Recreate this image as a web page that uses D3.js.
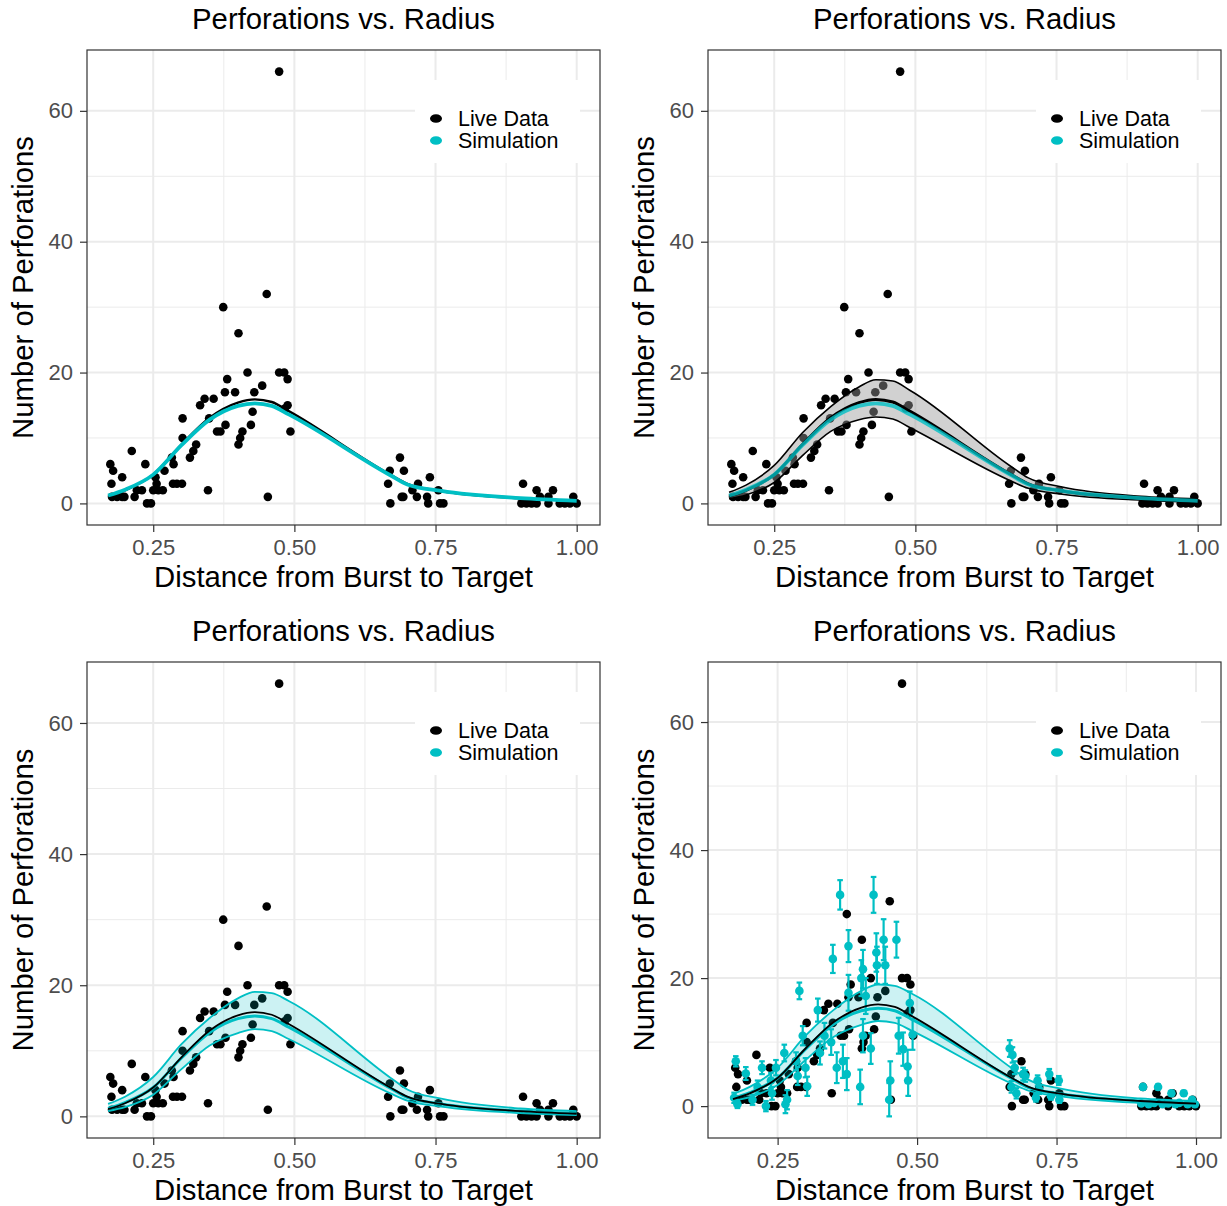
<!DOCTYPE html>
<html>
<head>
<meta charset="utf-8">
<script src="https://cdn.jsdelivr.net/npm/d3@7"></script>
<style>
  body { margin: 0; background: #fff; }
  text { font-family: "Liberation Sans", Arial, Helvetica, sans-serif; }
</style>
</head>
<body>
<div id="chart"></div>
<script>
// live data (distance, perforations)
var liveX = [0.174, 0.179, 0.176, 0.177, 0.186, 0.195, 0.199, 0.195, 0.212, 0.217,
  0.221, 0.230, 0.236, 0.239, 0.246, 0.254, 0.256, 0.250, 0.259, 0.267,
  0.270, 0.283, 0.286, 0.285, 0.292, 0.301, 0.302, 0.302, 0.315, 0.321,
  0.326, 0.333, 0.341, 0.347, 0.349, 0.357, 0.363, 0.369, 0.374, 0.377,
  0.378, 0.381, 0.395, 0.401, 0.401, 0.404, 0.408, 0.417, 0.423, 0.426,
  0.429, 0.443, 0.451, 0.453, 0.473, 0.473, 0.482, 0.488, 0.488, 0.483,
  0.493,
  0.669, 0.666, 0.687, 0.694, 0.670, 0.690, 0.693, 0.709, 0.719, 0.717,
  0.740, 0.735, 0.737, 0.755, 0.758, 0.764,
  0.905, 0.902, 0.911, 0.920, 0.929, 0.929, 0.935, 0.950, 0.950, 0.958,
  0.970, 0.979, 0.988, 0.994, 1.000];
var liveY = [6, 5, 3, 1, 1, 1, 1, 4, 8, 1,
  2, 2, 6, 0, 0, 4, 3, 2, 2, 2,
  5, 7, 6, 3, 3, 3, 10, 13, 7, 8,
  9, 15, 16, 2, 13, 16, 11, 11, 30, 17,
  12, 19, 17, 26, 9, 10, 11, 20, 12, 14,
  17, 18, 32, 1, 66, 20, 20, 19, 15, 14.5,
  11,
  5, 3, 7, 5, 0, 1, 1, 2, 3, 1,
  4, 1, 0, 2, 0, 0,
  3, 0, 0, 0, 0, 2, 1, 1, 0, 2,
  0, 0, 0, 1, 0];

// simulation means with error bar half-widths
var simX = [0.175, 0.193, 0.222, 0.172, 0.178, 0.205, 0.214, 0.229, 0.240, 0.238,
  0.247, 0.262, 0.267, 0.264, 0.283, 0.286, 0.289, 0.295, 0.300, 0.303,
  0.322, 0.326, 0.334, 0.346, 0.349, 0.356, 0.362, 0.367, 0.374, 0.377,
  0.377, 0.398, 0.400, 0.403, 0.403, 0.408, 0.417, 0.422, 0.427, 0.428,
  0.440, 0.443, 0.450, 0.452, 0.463, 0.467, 0.475, 0.483, 0.484, 0.487,
  0.492,
  0.666, 0.671, 0.675, 0.669, 0.678, 0.690, 0.694, 0.713, 0.716, 0.719,
  0.737, 0.740, 0.754, 0.755,
  0.905, 0.902, 0.915, 0.925, 0.932, 0.940, 0.950, 0.956, 0.963, 0.970,
  0.978, 0.985, 0.993, 0.998];
var simY = [7, 5.1, 6, 1.3, 0.3, 1, 3, 0, 2, 4,
  6, 8.3, 1, 0.3, 7, 4.7, 18, 11, 6, 3.1,
  15, 8.3, 11, 10, 23, 6, 33, 7, 5, 25,
  17.7, 3, 20, 21.4, 11, 17.2, 9, 33, 24, 22,
  26, 22, 1, 4, 26, 11, 8.9, 6.2, 4, 16.1,
  11.2,
  9, 8, 6, 3, 2, 5, 4.7, 1.3, 4, 2.6,
  5, 1.6, 4, 1,
  3, 0.4, 0.3, 0.5, 3, 0.3, 0.4, 2, 0.3, 0.5,
  2, 0.3, 1, 0.3];
var simErr = [0.8, 1.0, 1.0, 0.8, 0.6, 0.8, 1.0, 0.8, 1.0, 1.2,
  1.2, 1.3, 1.5, 1.4, 1.4, 1.4, 1.3, 1.5, 1.5, 1.5,
  1.8, 1.8, 2.0, 2.0, 2.2, 2.4, 2.3, 2.6, 2.5, 2.5,
  2.8, 2.7, 2.8, 3.0, 2.6, 2.8, 2.4, 2.8, 3.0, 2.9,
  3.2, 2.9, 2.6, 3.0, 2.8, 2.8, 2.6, 2.6, 2.4, 1.8,
  2.4,
  1.3, 1.2, 1.0, 0.9, 0.8, 1.0, 0.9, 0.6, 0.8, 0.7,
  0.8, 0.6, 0.7, 0.5,
  0.4, 0.3, 0.3, 0.3, 0.4, 0.3, 0.3, 0.4, 0.3, 0.3,
  0.4, 0.3, 0.3, 0.3];

// fitted curves
var fitX    = [0.17, 0.20, 0.25, 0.30, 0.35, 0.40, 0.43, 0.46, 0.49, 0.67, 0.70, 0.76, 0.90, 1.00];
var liveFit = [1.1, 2.0, 4.4, 9.0, 13.1, 15.4, 15.9, 15.5, 14.1, 4.4, 3.0, 1.9, 0.8, 0.4];
var liveLo  = [0.7, 1.3, 3.2, 7.3, 11.0, 12.8, 13.2, 12.9, 11.6, 3.4, 2.3, 1.4, 0.5, 0.2];
var liveHi  = [1.7, 2.8, 5.8, 10.8, 14.8, 17.8, 18.9, 18.7, 17.3, 5.6, 3.9, 2.5, 1.1, 0.7];
var simFit  = [1.2, 2.1, 4.4, 8.9, 12.8, 14.9, 15.3, 14.9, 13.6, 4.3, 2.9, 1.9, 0.8, 0.4];
var simLo   = [0.8, 1.4, 3.3, 7.2, 10.8, 12.7, 13.3, 13.0, 11.8, 3.5, 2.4, 1.5, 0.5, 0.2];
var simHi   = [1.9, 3.0, 6.0, 11.0, 15.0, 18.0, 19.0, 18.8, 17.6, 5.9, 4.1, 2.7, 1.2, 0.8];

var xTicks = [0.25, 0.50, 0.75, 1.00];
var yTicks = [0, 20, 40, 60];
var xMinor = [0.125, 0.375, 0.625, 0.875];
var yMinor = [-10, 10, 30, 50, 70];

var teal = "#00BFC4";
var fontFam = "'Liberation Sans', Arial, Helvetica, sans-serif";

var svg = d3.select("#chart").append("svg")
  .attr("width", 1227)
  .attr("height", 1206);

// panel frames: mode 1 lines, 2 live band, 3 sim band, 4 sim band + sim points
var panels = [
  {x0: 87, y0: 50, x1: 600, y1: 525, mode: 1},
  {x0: 708, y0: 50, x1: 1221, y1: 525, mode: 2},
  {x0: 87, y0: 662, x1: 600, y1: 1138, mode: 3},
  {x0: 708, y0: 662, x1: 1221, y1: 1138, mode: 4}
];

panels.forEach(function(p, idx) {
  var g = svg.append("g");

  // ggplot-like 5% expansion of the data range
  var xs = liveX.slice(), ys = liveY.slice();
  if (p.mode === 4) {
    xs = xs.concat(simX.map(v => v - 0.005), simX.map(v => v + 0.005));
    ys = ys.concat(simY.map((v, i) => v - simErr[i]), simY.map((v, i) => v + simErr[i]));
  }
  var xe = d3.extent(xs), ye = d3.extent(ys);
  var xp = (xe[1] - xe[0]) * 0.05, yp = (ye[1] - ye[0]) * 0.05;

  var x = d3.scaleLinear().domain([xe[0] - xp, xe[1] + xp]).range([p.x0, p.x1]);
  var y = d3.scaleLinear().domain([ye[0] - yp, ye[1] + yp]).range([p.y1, p.y0]);
  var xd = x.domain(), yd = y.domain();

  // clip
  svg.append("clipPath").attr("id", "clip" + idx)
    .append("rect")
    .attr("x", p.x0).attr("y", p.y0)
    .attr("width", p.x1 - p.x0).attr("height", p.y1 - p.y0);

  // grid
  var grid = g.append("g");
  grid.selectAll(".xmin").data(xMinor.filter(v => v > xd[0] && v < xd[1])).enter()
    .append("line")
    .attr("x1", d => x(d)).attr("x2", d => x(d))
    .attr("y1", p.y0).attr("y2", p.y1)
    .attr("stroke", "#ebebeb").attr("stroke-width", 1);
  grid.selectAll(".ymin").data(yMinor.filter(v => v > yd[0] && v < yd[1])).enter()
    .append("line")
    .attr("y1", d => y(d)).attr("y2", d => y(d))
    .attr("x1", p.x0).attr("x2", p.x1)
    .attr("stroke", "#ebebeb").attr("stroke-width", 1);
  grid.selectAll(".xmaj").data(xTicks).enter()
    .append("line")
    .attr("x1", d => x(d)).attr("x2", d => x(d))
    .attr("y1", p.y0).attr("y2", p.y1)
    .attr("stroke", "#ebebeb").attr("stroke-width", 2);
  grid.selectAll(".ymaj").data(yTicks).enter()
    .append("line")
    .attr("y1", d => y(d)).attr("y2", d => y(d))
    .attr("x1", p.x0).attr("x2", p.x1)
    .attr("stroke", "#ebebeb").attr("stroke-width", 2);

  var plot = g.append("g").attr("clip-path", "url(#clip" + idx + ")");

  // live points
  plot.selectAll(".live").data(liveX).enter()
    .append("circle")
    .attr("cx", d => x(d))
    .attr("cy", (d, i) => y(liveY[i]))
    .attr("r", 4.3)
    .attr("fill", "#000");

  // simulation points with error bars
  if (p.mode === 4) {
    var eb = plot.append("g").attr("stroke", teal).attr("stroke-width", 2.2);
    simX.forEach(function(sx, i) {
      var lo = simY[i] - simErr[i], hi = simY[i] + simErr[i];
      eb.append("line").attr("x1", x(sx)).attr("x2", x(sx)).attr("y1", y(lo)).attr("y2", y(hi));
      eb.append("line").attr("x1", x(sx - 0.005)).attr("x2", x(sx + 0.005)).attr("y1", y(lo)).attr("y2", y(lo));
      eb.append("line").attr("x1", x(sx - 0.005)).attr("x2", x(sx + 0.005)).attr("y1", y(hi)).attr("y2", y(hi));
    });
    plot.selectAll(".sim").data(simX).enter()
      .append("circle")
      .attr("cx", d => x(d))
      .attr("cy", (d, i) => y(simY[i]))
      .attr("r", 4.3)
      .attr("fill", teal);
  }

  var line = function(vals) {
    return d3.line().x(d => x(d)).y((d, i) => y(vals[i])).curve(d3.curveMonotoneX)(fitX);
  };
  var band = function(lo, hi) {
    return d3.area().x(d => x(d)).y0((d, i) => y(lo[i])).y1((d, i) => y(hi[i]))
      .curve(d3.curveMonotoneX)(fitX);
  };

  if (p.mode === 2) {
    plot.append("path").attr("d", band(liveLo, liveHi))
      .attr("fill", "#999").attr("fill-opacity", 0.45);
    [liveLo, liveHi].forEach(function(v) {
      plot.append("path").attr("d", line(v)).attr("fill", "none")
        .attr("stroke", "#000").attr("stroke-width", 1.6);
    });
  }
  if (p.mode >= 3) {
    plot.append("path").attr("d", band(simLo, simHi))
      .attr("fill", teal).attr("fill-opacity", 0.2);
    [simLo, simHi].forEach(function(v) {
      plot.append("path").attr("d", line(v)).attr("fill", "none")
        .attr("stroke", teal).attr("stroke-width", 1.8);
    });
  }

  if (p.mode >= 3) {
    plot.append("path").attr("d", line(simFit)).attr("fill", "none")
      .attr("stroke", teal).attr("stroke-width", 3);
    plot.append("path").attr("d", line(liveFit)).attr("fill", "none")
      .attr("stroke", "#000").attr("stroke-width", 1.8);
  } else {
    plot.append("path").attr("d", line(liveFit)).attr("fill", "none")
      .attr("stroke", "#000").attr("stroke-width", p.mode === 2 ? 3 : 2.4);
    plot.append("path").attr("d", line(simFit)).attr("fill", "none")
      .attr("stroke", teal).attr("stroke-width", 3.8)
      .attr("stroke-opacity", p.mode === 2 ? 0.8 : 1);
  }

  // border
  g.append("rect")
    .attr("x", p.x0).attr("y", p.y0)
    .attr("width", p.x1 - p.x0).attr("height", p.y1 - p.y0)
    .attr("fill", "none").attr("stroke", "#333").attr("stroke-width", 1.2);

  // axes
  var styleAxis = function(a) {
    a.attr("font-size", null).attr("font-family", null);
    a.select(".domain").remove();
    a.selectAll("line").attr("stroke", "#333").attr("stroke-width", 1.2);
    a.selectAll("text").attr("fill", "#4d4d4d")
      .style("font-size", "22px").style("font-family", fontFam);
  };
  g.append("g").attr("transform", `translate(0, ${p.y1})`)
    .call(d3.axisBottom(x).tickValues(xTicks).tickFormat(d3.format(".2f")).tickSize(7).tickPadding(7))
    .call(styleAxis);
  g.append("g").attr("transform", `translate(${p.x0}, 0)`)
    .call(d3.axisLeft(y).tickValues(yTicks).tickSize(7).tickPadding(7))
    .call(styleAxis);

  var cx = (p.x0 + p.x1) / 2, cy = (p.y0 + p.y1) / 2;

  // titles
  g.append("text")
    .attr("x", cx).attr("y", p.y0 - 21)
    .attr("text-anchor", "middle")
    .style("font-size", "29.3px").attr("fill", "#000")
    .text("Perforations vs. Radius");
  g.append("text")
    .attr("x", cx).attr("y", p.y1 + 62)
    .attr("text-anchor", "middle")
    .style("font-size", "29.3px").attr("fill", "#000")
    .text("Distance from Burst to Target");
  g.append("text")
    .attr("transform", `translate(${p.x0 - 54}, ${cy}) rotate(-90)`)
    .attr("text-anchor", "middle")
    .style("font-size", "29.3px").attr("fill", "#000")
    .text("Number of Perforations");

  // legend
  var lg = g.append("g").attr("transform", `translate(${p.x1 - 185}, ${p.y0 + 30})`);
  lg.append("rect").attr("width", 165).attr("height", 83).attr("fill", "#fff");
  var keys = [{label: "Live Data", color: "#000"}, {label: "Simulation", color: teal}];
  keys.forEach(function(k, i) {
    lg.append("ellipse")
      .attr("cx", 21).attr("cy", 38.5 + i * 22)
      .attr("rx", 6).attr("ry", 4.3)
      .attr("fill", k.color);
    lg.append("text")
      .attr("x", 43).attr("y", 45.5 + i * 22.5)
      .style("font-size", "21.5px").attr("fill", "#000")
      .text(k.label);
  });
});
</script>
</body>
</html>
